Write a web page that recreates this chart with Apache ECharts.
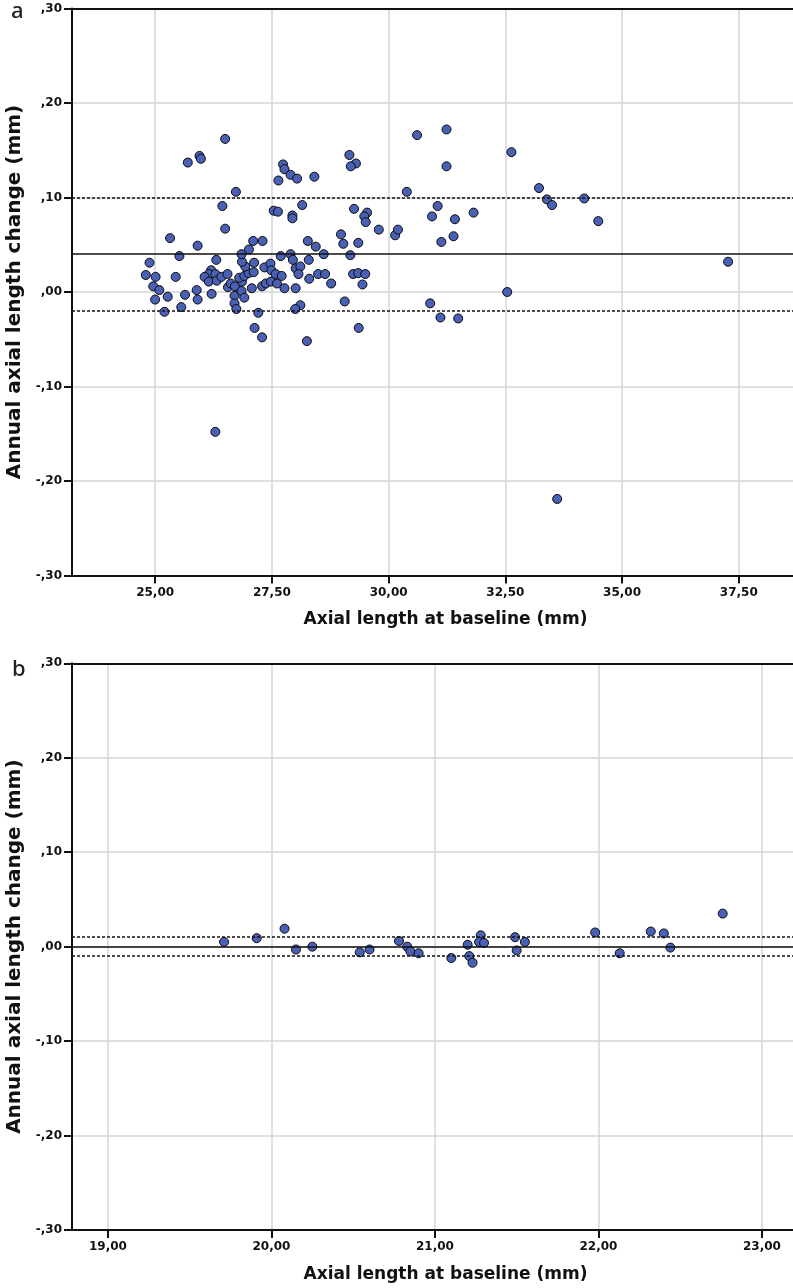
<!DOCTYPE html>
<html>
<head>
<meta charset="utf-8">
<script src="https://cdn.jsdelivr.net/npm/echarts@6/dist/echarts.min.js"></script>
<style>
  html, body { margin: 0; padding: 0; background: #ffffff; }
  #chart { width: 793px; height: 1288px; }
</style>
</head>
<body>
<div id="chart"></div>
<script>
// Panel a: axial length at baseline (mm) vs annual axial length change (mm)
const axialA = [
  26.50, 25.70, 25.95, 25.98, 26.73, 26.44, 26.50, 25.32, 25.91, 25.52,
  24.88, 24.80, 25.01, 24.96, 25.09, 25.00, 25.27, 25.20, 25.44, 25.64,
  25.56, 25.89, 25.91, 26.21, 26.31, 26.20, 26.15, 26.06, 26.15, 26.29,
  26.32, 26.42, 26.55, 26.56, 26.62, 26.71, 26.70, 26.70, 26.74, 26.85,
  26.91, 26.86, 26.80, 26.91, 27.00, 27.07, 26.93, 26.86, 26.85, 27.01,
  27.10, 27.30, 27.12, 27.11, 27.21, 27.13, 27.29, 26.29, 27.29, 27.37,
  27.34, 27.47, 27.49, 27.48, 27.58, 27.61, 27.71, 27.77, 27.69, 27.90,
  27.95, 28.01, 28.11, 28.07, 28.01, 28.30, 28.29, 28.27, 28.44, 28.61,
  28.49, 28.64, 28.77, 28.11, 28.00, 28.25, 27.54, 27.63, 27.94, 27.94,
  28.15, 27.64, 27.74, 27.77, 27.90, 28.04, 28.41,
  29.16, 29.30, 29.19, 30.61, 31.24, 31.24, 32.63, 30.39, 33.22, 33.39,
  33.50, 29.26, 29.54, 29.48, 29.51, 29.79, 30.14, 30.20, 31.05, 30.93,
  31.42, 31.82, 31.39, 31.13, 28.98, 29.03, 29.35, 29.18, 29.24, 29.35,
  29.50, 29.44, 29.06, 29.36, 30.89, 31.11, 31.49, 32.54, 33.61,
  34.19, 34.49, 37.27
];
const changeA = [
  0.162, 0.137, 0.144, 0.141, 0.106, 0.091, 0.067, 0.057, 0.049, 0.038,
  0.031, 0.018, 0.016, 0.006, 0.002, -0.008, -0.005, -0.021, 0.016, -0.003,
  -0.016, 0.002, -0.008, -0.002, 0.034, 0.023, 0.019, 0.016, 0.011, 0.019,
  0.012, 0.016, 0.019, 0.005, 0.009, 0.006, -0.004, -0.012, -0.018, 0.001,
  -0.006, 0.011, 0.015, 0.017, 0.020, 0.004, 0.027, 0.032, 0.040, 0.045,
  0.054, 0.054, 0.031, 0.021, -0.022, -0.038, -0.048, -0.148, 0.006, 0.009,
  0.026, 0.030, 0.023, 0.011, 0.019, 0.009, 0.017, 0.004, 0.038, 0.040,
  0.034, 0.025, 0.027, 0.019, 0.004, 0.014, 0.034, 0.054, 0.048, 0.040,
  0.019, 0.019, 0.009, -0.014, -0.018, -0.052, 0.086, 0.085, 0.081, 0.078,
  0.092, 0.118, 0.135, 0.130, 0.124, 0.120, 0.122,
  0.145, 0.136, 0.133, 0.166, 0.172, 0.133, 0.148, 0.106, 0.110, 0.098,
  0.092, 0.088, 0.084, 0.080, 0.074, 0.066, 0.060, 0.066, 0.091, 0.080,
  0.077, 0.084, 0.059, 0.053, 0.061, 0.051, 0.052, 0.039, 0.019, 0.020,
  0.019, 0.008, -0.010, -0.038, -0.012, -0.027, -0.028, 0.000, -0.219,
  0.099, 0.075, 0.032
];
// mean difference, upper and lower limits of agreement
const limitsA = [0.038, 0.0985, -0.0225];
const xTicksA = [25, 27.5, 30, 32.5, 35, 37.5];
const xRangeA = [23.22, 38.66];

// Panel b
const axialB = [
  19.71, 19.91, 20.08, 20.15, 20.25, 20.54, 20.60, 20.78, 20.83, 20.85,
  20.90, 21.10, 21.20, 21.21, 21.23, 21.28, 21.27, 21.30, 21.49, 21.50,
  21.55, 21.98, 22.13, 22.32, 22.40, 22.44, 22.76
];
const changeB = [
  0.005, 0.009, 0.019, -0.003, 0.000, -0.006, -0.003, 0.006, 0.000, -0.005,
  -0.007, -0.012, 0.002, -0.010, -0.017, 0.012, 0.005, 0.004, 0.010, -0.004,
  0.005, 0.015, -0.007, 0.016, 0.014, -0.001, 0.035
];
const limitsB = [0.003, 0.0138, -0.0079];
const xTicksB = [19, 20, 21, 22, 23];
const xRangeB = [18.78, 23.19];

const yRange = [-0.3, 0.3];
const yStep = 0.1;

const FONT = '"DejaVu Sans", "Liberation Sans", sans-serif';
const INK = '#111111';
const GRID_GRAY = '#d6d6d6';
const DOT = '#4a60b4';

const pairs = (xs, ys) => xs.map((x, i) => [x, ys[i]]);
const fmtX = v => v.toFixed(2).replace('.', ',');
const fmtY = v => (v < -1e-9 ? '-' : '') + Math.abs(v).toFixed(2).slice(1).replace('.', ',');

function bottomAxis(gridIndex, range, ticks) {
  return {
    type: 'value', gridIndex, position: 'bottom',
    min: range[0], max: range[1],
    axisLine: { show: true, onZero: false, lineStyle: { color: INK, width: 2 } },
    axisTick: { show: true, length: 8, customValues: ticks, lineStyle: { color: INK, width: 2 } },
    axisLabel: {
      customValues: ticks, margin: 11, color: INK, fontFamily: FONT,
      fontWeight: 'bold', fontSize: 12, formatter: fmtX
    },
    splitLine: { show: true, lineStyle: { color: GRID_GRAY, width: 1.5 } },
    name: 'Axial length at baseline (mm)', nameLocation: 'middle', nameGap: 36,
    nameTextStyle: { color: INK, fontFamily: FONT, fontWeight: 'bold', fontSize: 17, padding: [0, 0, 0, 26] }
  };
}
function topFrame(gridIndex, range) {
  return {
    type: 'value', gridIndex, position: 'top', min: range[0], max: range[1],
    axisLine: { show: true, onZero: false, lineStyle: { color: INK, width: 2 } },
    axisTick: { show: false }, axisLabel: { show: false }, splitLine: { show: false }
  };
}
function leftAxis(gridIndex) {
  return {
    type: 'value', gridIndex, min: yRange[0], max: yRange[1], interval: yStep,
    axisLine: { show: true, onZero: false, lineStyle: { color: INK, width: 2 } },
    axisTick: { show: true, length: 8, lineStyle: { color: INK, width: 2 } },
    axisLabel: {
      margin: 10, color: INK, fontFamily: FONT, fontWeight: 'bold', fontSize: 12, formatter: fmtY
    },
    splitLine: { show: true, lineStyle: { color: GRID_GRAY, width: 1.5 } },
    name: 'Annual axial length change (mm)', nameLocation: 'middle', nameGap: 39,
    nameTextStyle: { color: INK, fontFamily: FONT, fontWeight: 'bold', fontSize: 20 }
  };
}
function limitLines(limits) {
  const solid = { color: INK, width: 1.5, type: 'solid' };
  const dashed = { color: INK, width: 1.5, type: [3, 2] };
  return {
    silent: true, symbol: 'none', animation: false, label: { show: false },
    emphasis: { disabled: true },
    data: [
      { yAxis: limits[0], lineStyle: solid },
      { yAxis: limits[1], lineStyle: dashed },
      { yAxis: limits[2], lineStyle: dashed }
    ]
  };
}
function dots(xAxisIndex, yAxisIndex, data, limits) {
  return {
    type: 'scatter', xAxisIndex, yAxisIndex, data,
    symbol: 'circle', symbolSize: 9,
    itemStyle: { color: DOT, borderColor: '#0b0b0b', borderWidth: 1, opacity: 1 },
    emphasis: { disabled: true },
    markLine: limitLines(limits)
  };
}

const chart = echarts.init(document.getElementById('chart'), null, { renderer: 'canvas' });
chart.setOption({
  animation: false,
  backgroundColor: '#ffffff',
  grid: [
    { left: 72, top: 8.5, width: 721, height: 567, containLabel: false, outerBoundsMode: 'none' },
    { left: 72, top: 663.3, width: 721, height: 566.7, containLabel: false, outerBoundsMode: 'none' }
  ],
  xAxis: [
    bottomAxis(0, xRangeA, xTicksA),
    bottomAxis(1, xRangeB, xTicksB),
    topFrame(0, xRangeA),
    topFrame(1, xRangeB)
  ],
  yAxis: [leftAxis(0), leftAxis(1)],
  graphic: [
    { type: 'text', left: 11, top: 1, style: { text: 'a', font: '500 22px "Noto Sans", sans-serif', fill: '#222' } },
    { type: 'text', left: 12, top: 659, style: { text: 'b', font: '500 22px "Noto Sans", sans-serif', fill: '#222' } }
  ],
  series: [
    dots(0, 0, pairs(axialA, changeA), limitsA),
    dots(1, 1, pairs(axialB, changeB), limitsB)
  ]
});
</script>
</body>
</html>
